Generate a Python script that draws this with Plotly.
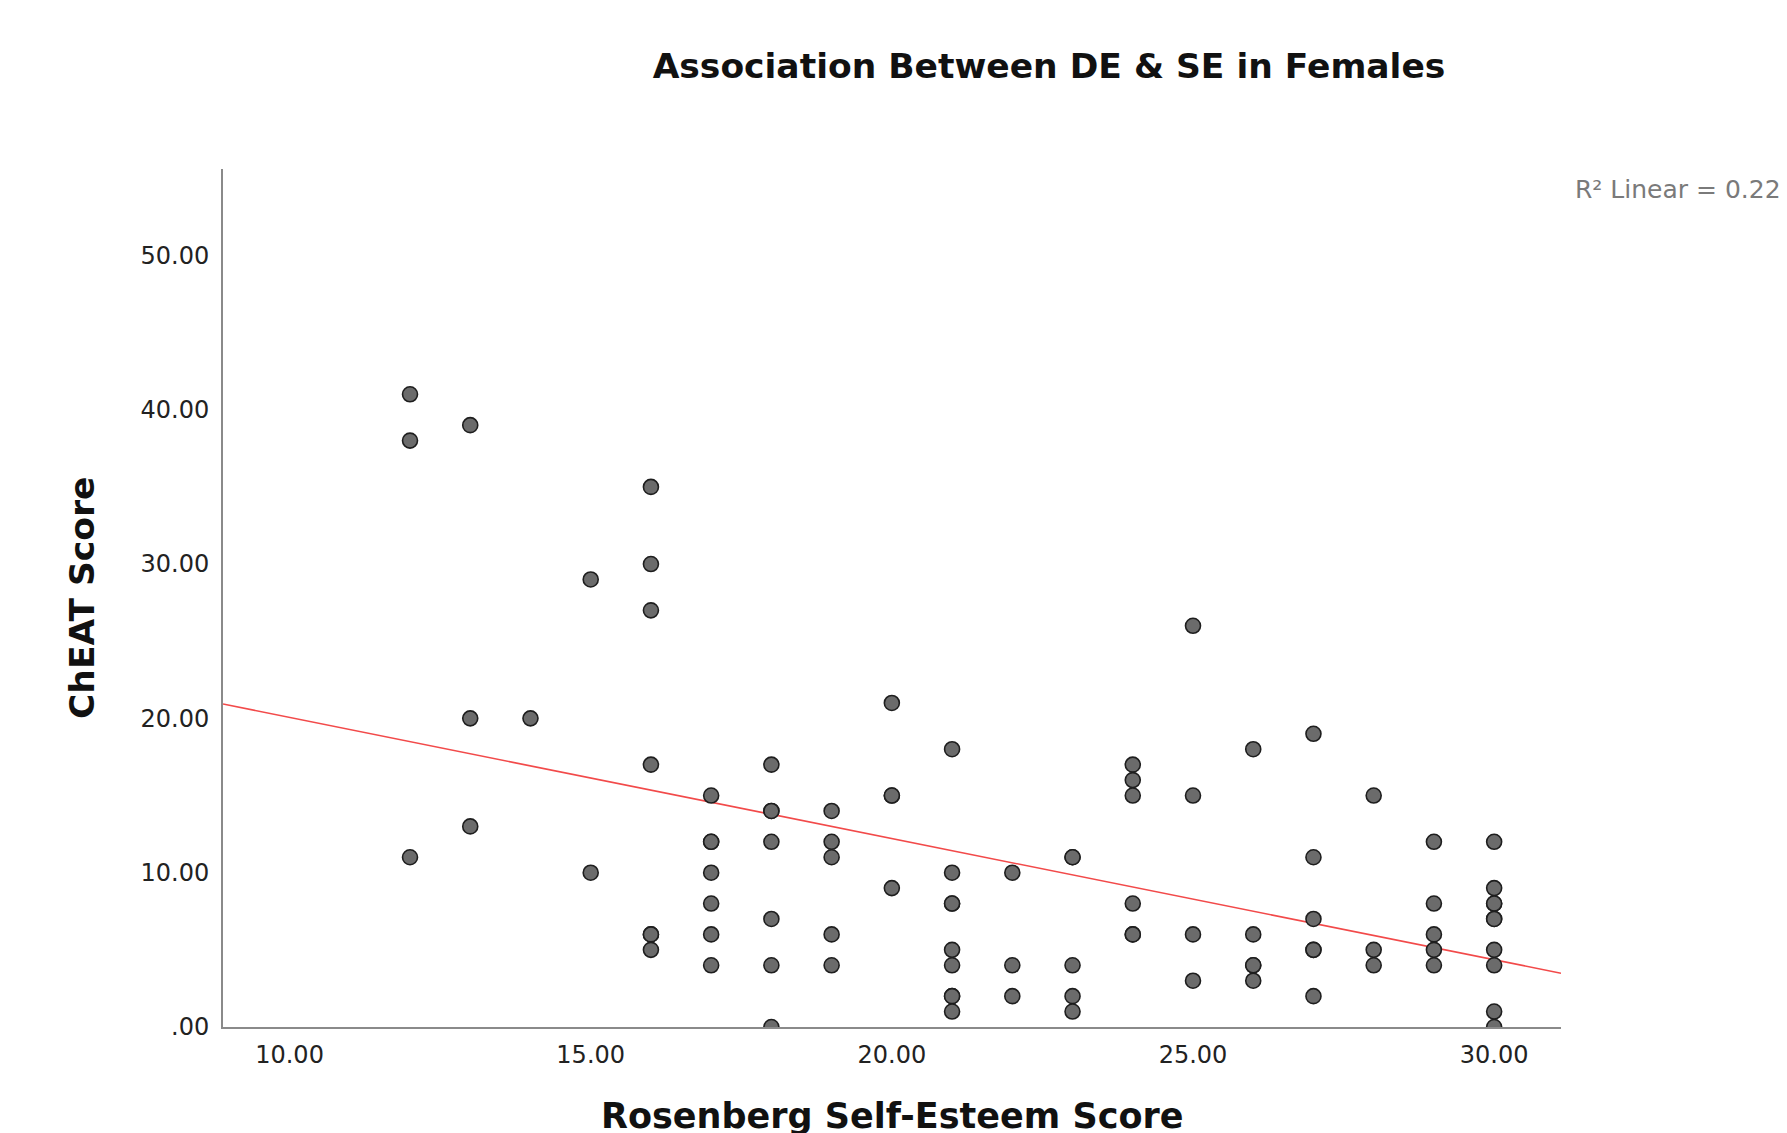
import numpy as np
import plotly.graph_objects as go

# Rosenberg Self-Esteem score (x) and ChEAT score (y)
self_esteem = (
    [12] * 3 + [13] * 3 + [14] * 1 + [15] * 2 + [16] * 7 + [17] * 7 + [18] * 7 +
    [19] * 5 + [20] * 4 + [21] * 9 + [22] * 3 + [23] * 5 + [24] * 6 + [25] * 4 +
    [26] * 5 + [27] * 6 + [28] * 3 + [29] * 5 + [30] * 10
)
cheat = (
    [41, 38, 11] +
    [39, 20, 13] +
    [20] +
    [29, 10] +
    [35, 30, 27, 17, 6, 6, 5] +
    [15, 12, 12, 10, 8, 6, 4] +
    [17, 14, 14, 12, 7, 4, 0] +
    [14, 12, 11, 6, 4] +
    [21, 15, 15, 9] +
    [18, 10, 8, 8, 5, 4, 2, 2, 1] +
    [10, 4, 2] +
    [11, 11, 4, 2, 1] +
    [17, 16, 15, 8, 6, 6] +
    [26, 15, 6, 3] +
    [18, 6, 4, 4, 3] +
    [19, 11, 7, 5, 5, 2] +
    [15, 5, 4] +
    [12, 8, 6, 5, 4] +
    [12, 9, 8, 8, 7, 7, 5, 4, 1, 0]
)

x_ticks = [10, 15, 20, 25, 30]
x_ticktext = ["10.00", "15.00", "20.00", "25.00", "30.00"]
y_ticks = [0, 10, 20, 30, 40, 50]
y_ticktext = [".00", "10.00", "20.00", "30.00", "40.00", "50.00"]

title = "Association Between DE & SE in Females"
x_title = "Rosenberg Self-Esteem Score"
y_title = "ChEAT Score"
r2_label = "R² Linear = 0.229"

x_range = [8.895, 31.11]
y_range = [0, 55.6]

x = np.array(self_esteem, dtype=float)
y = np.array(cheat, dtype=float)
slope, intercept = np.polyfit(x, y, 1)
fit_x = np.array(x_range)
fit_y = intercept + slope * fit_x

FONT = "DejaVu Sans"
W, H = 1787, 1133
OFF = 8  # page body margin offset
PL, PT, PW, PH = 223 - OFF, 169 - OFF, 1338, 858

fig = go.Figure()
fig.add_trace(go.Scatter(
    x=fit_x, y=fit_y, mode="lines",
    line=dict(color="#f24a4a", width=1.6),
    hoverinfo="skip", showlegend=False,
))
fig.add_trace(go.Scatter(
    x=x, y=y, mode="markers",
    marker=dict(size=15, color="#6b6b6b", line=dict(color="#1e1e1e", width=1.6)),
    showlegend=False,
))

fig.update_layout(
    width=W, height=H,
    paper_bgcolor="white", plot_bgcolor="white",
    margin=dict(l=PL, r=W - PL - PW, t=PT, b=H - PT - PH),
    font=dict(family=FONT, color="#222222"),
    title=dict(
        text=f"<b>{title}</b>", x=(1049 - OFF) / W, xanchor="center",
        y=1 - (66 - OFF) / H, yanchor="middle",
        font=dict(family=FONT, size=34.5, color="#111111"),
    ),
    xaxis=dict(
        range=x_range, tickvals=x_ticks, ticktext=x_ticktext,
        showline=True, linecolor="#8a8a8a", linewidth=2,
        showgrid=False, zeroline=False, ticks="",
        tickfont=dict(family=FONT, size=24, color="#222222"),
        ticklabelstandoff=5,
    ),
    yaxis=dict(
        range=y_range, tickvals=y_ticks, ticktext=y_ticktext,
        showline=True, linecolor="#8a8a8a", linewidth=2,
        showgrid=False, zeroline=False, ticks="",
        tickfont=dict(family=FONT, size=24, color="#222222"),
        ticklabelstandoff=7,
    ),
    annotations=[
        dict(text=f"<b>{x_title}</b>", xref="paper", yref="paper",
             x=0.5, y=(1027 - 1116) / PH, xanchor="center", yanchor="middle",
             showarrow=False, font=dict(family=FONT, size=35, color="#111111")),
        dict(text=f"<b>{y_title}</b>", xref="paper", yref="paper",
             x=(82 - 223) / PW, y=0.5, xanchor="center", yanchor="middle",
             textangle=-90, showarrow=False,
             font=dict(family=FONT, size=34.5, color="#111111")),
        dict(text=r2_label, xref="paper", yref="paper",
             x=(1573 - 223) / PW, y=(1027 - 189) / PH,
             xanchor="left", yanchor="middle", showarrow=False,
             font=dict(family=FONT, size=25, color="#7a7a7a")),
    ],
)

fig.write_html("out.html")
